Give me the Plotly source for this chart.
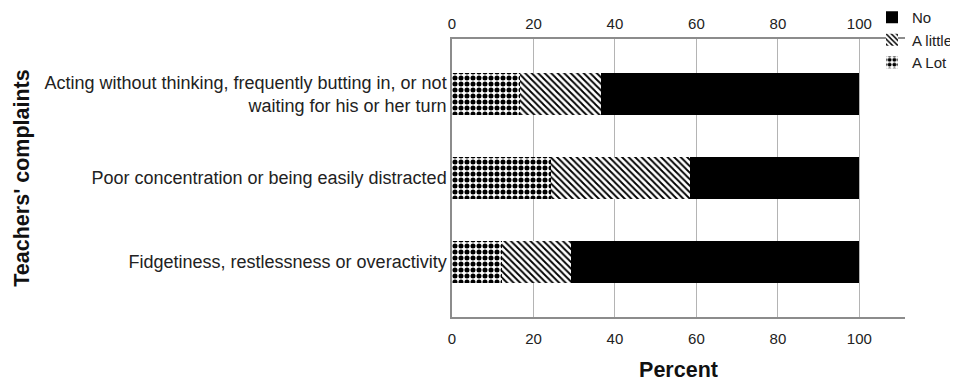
import plotly.graph_objects as go

categories = [
    "Acting without thinking, frequently butting in, or not<br>waiting for his or her turn",
    "Poor concentration or being easily distracted",
    "Fidgetiness, restlessness or overactivity",
]
a_lot = [16.7, 24.3, 12.3]
a_little = [19.9, 34.1, 16.9]
no = [63.4, 41.6, 70.8]
x_ticks = [0, 20, 40, 60, 80, 100]

FONT = "Liberation Sans, Arial, sans-serif"

fig = go.Figure()
fig.add_trace(go.Bar(
    y=categories, x=a_lot, name="A Lot", orientation="h", width=0.5,
    marker=dict(color="white", line=dict(width=0),
                pattern=dict(shape=".", fgcolor="black", bgcolor="white",
                             size=6, solidity=0.55, fillmode="replace")),
))
fig.add_trace(go.Bar(
    y=categories, x=a_little, name="A little", orientation="h", width=0.5,
    marker=dict(color="white", line=dict(width=0),
                pattern=dict(shape="\\", fgcolor="black", bgcolor="white",
                             size=4.6, solidity=0.4, fillmode="replace")),
))
fig.add_trace(go.Bar(
    y=categories, x=no, name="No", orientation="h", width=0.5,
    marker=dict(color="black", line=dict(width=0)),
))

axis_common = dict(
    range=[0, 111.2], tickvals=x_ticks, ticks="", showgrid=True,
    gridcolor="#b4b4b4", gridwidth=1.3, showline=True, linecolor="#8c8c8c",
    linewidth=1.5, zeroline=False, tickfont=dict(family=FONT, size=15, color="#222"),
)

PLOT_H = 374 - 31 - 65
PLOT_W = 950 - 444 - 53

fig.update_layout(
    width=950, height=374,
    margin=dict(l=444, r=53, t=31, b=65, autoexpand=False),
    paper_bgcolor="white", plot_bgcolor="white",
    barmode="stack", bargap=0.5,
    font=dict(family=FONT, color="#222"),
    xaxis=dict(**axis_common, side="bottom", ticklabelstandoff=7,
               title=dict(text="<b>Percent</b>", font=dict(family=FONT, size=21.5, color="#111"),
                          standoff=19)),
    xaxis2=dict(**axis_common, side="top", overlaying="x", matches="x", ticklabelstandoff=2),
    yaxis=dict(range=[2.655, -0.655], showline=True, linecolor="#8c8c8c", linewidth=1.5,
               ticks="", showgrid=False, zeroline=False,
               tickfont=dict(family=FONT, size=18, color="#222"),
               title=dict(text="<b>Teachers' complaints</b>",
                          font=dict(family=FONT, size=21.5, color="#111"), standoff=9)),
    legend=dict(x=(864 - 444) / PLOT_W, xanchor="left", y=1 + 38 / PLOT_H, yanchor="top",
                traceorder="reversed", bgcolor="rgba(255,255,255,0)",
                font=dict(family=FONT, size=15, color="#222"),
                itemwidth=30, tracegroupgap=0),
    showlegend=True,
)
# invisible trace to activate the top axis
fig.add_trace(go.Scatter(x=[0], y=[categories[0]], xaxis="x2", mode="markers",
                         marker=dict(opacity=0), showlegend=False, hoverinfo="skip"))

fig.write_html("out.html")
